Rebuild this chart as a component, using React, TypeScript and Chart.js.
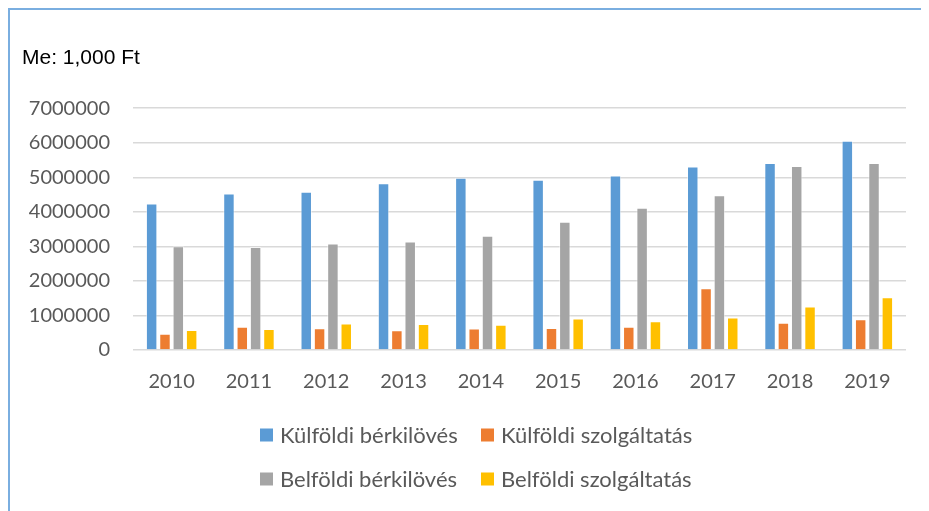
import React, { useEffect, useRef } from "react";
import { Chart, registerables } from "chart.js";

Chart.register(...registerables);

const years = ["2010", "2011", "2012", "2013", "2014", "2015", "2016", "2017", "2018", "2019"];
const kulfoldiBerkiloves = [4240000, 4530000, 4580000, 4830000, 4990000, 4930000, 5050000, 5310000, 5410000, 6060000];
const kulfoldiSzolgaltatas = [470000, 670000, 630000, 570000, 620000, 640000, 670000, 1790000, 790000, 890000];
const belfoldiBerkiloves = [3000000, 2980000, 3080000, 3140000, 3310000, 3710000, 4120000, 4480000, 5330000, 5410000];
const belfoldiSzolgaltatas = [580000, 610000, 770000, 750000, 730000, 910000, 830000, 940000, 1260000, 1530000];
const seriesLabels = ["Külföldi bérkilövés", "Külföldi szolgáltatás", "Belföldi bérkilövés", "Belföldi szolgáltatás"];
const seriesColors = ["#5B9BD5", "#ED7D31", "#A5A5A5", "#FFC000"];
const unitTitle = "Me: 1,000 Ft";
const yMax = 7000000;
const yStep = 1000000;

const gridLegend = {
  id: "gridLegend",
  afterDraw(chart: any) {
    const ctx = chart.ctx;
    const colBox = [250, 471];
    const rowY = [425, 469];
    ctx.save();
    ctx.font = "22px Lato";
    ctx.textBaseline = "middle";
    ctx.textAlign = "left";
    chart.data.datasets.forEach((d: any, i: number) => {
      const x = colBox[i % 2];
      const y = rowY[Math.floor(i / 2)];
      ctx.fillStyle = d.backgroundColor;
      ctx.fillRect(x, y - 6.5, 13, 13);
      ctx.fillStyle = "#595959";
      ctx.fillText(d.label, x + 20, y + 1);
    });
    ctx.restore();
  },
};

export default function App() {
  const canvasRef = useRef<HTMLCanvasElement | null>(null);

  useEffect(() => {
    document.body.style.margin = "8px";
    document.body.style.overflow = "hidden";
    const canvas = canvasRef.current;
    if (!canvas) return;
    const data = [kulfoldiBerkiloves, kulfoldiSzolgaltatas, belfoldiBerkiloves, belfoldiSzolgaltatas];
    const chart = new Chart(canvas, {
      type: "bar",
      data: {
        labels: years,
        datasets: data.map((vals, i) => ({
          label: seriesLabels[i],
          data: vals,
          backgroundColor: seriesColors[i],
          borderColor: "rgba(255,255,255,0.5)",
          borderWidth: 1,
          barPercentage: 0.86,
          categoryPercentage: 0.69,
        })),
      },
      options: {
        animation: false,
        responsive: false,
        maintainAspectRatio: false,
        layout: { padding: { left: 12, right: 23, top: 0, bottom: 0 } },
        plugins: {
          legend: { display: false },
          tooltip: { enabled: false },
          title: {
            display: true,
            text: unitTitle,
            align: "start",
            color: "#000000",
            font: { family: "Liberation Sans", size: 21, weight: "normal" },
            padding: { top: 36, bottom: 37 },
          },
        },
        scales: {
          x: {
            grid: { display: false, drawTicks: false },
            border: { display: false },
            ticks: {
              color: "#595959",
              font: { family: "Lato", size: 20 },
              padding: 20,
              maxRotation: 0,
            },
            afterFit(axis: any) {
              axis.height = 161;
            },
          },
          y: {
            min: 0,
            max: yMax,
            grid: { color: "#D9D9D9", lineWidth: 1.5, drawTicks: false },
            border: { display: false },
            ticks: {
              stepSize: yStep,
              color: "#595959",
              font: { family: "Lato", size: 20 },
              padding: 23,
              callback: (v: any) => String(v),
            },
            afterFit(axis: any) {
              axis.width = 111;
            },
          },
        },
      },
      plugins: [gridLegend],
    });
    return () => chart.destroy();
  }, []);

  return (
    <div
      style={{
        width: 921,
        height: 503,
        boxSizing: "border-box",
        borderTop: "2px solid #7AAEE0",
        borderLeft: "2px solid #7AAEE0",
        background: "#ffffff",
      }}
    >
      <canvas ref={canvasRef} width={919} height={501} style={{ display: "block" }} />
    </div>
  );
}
